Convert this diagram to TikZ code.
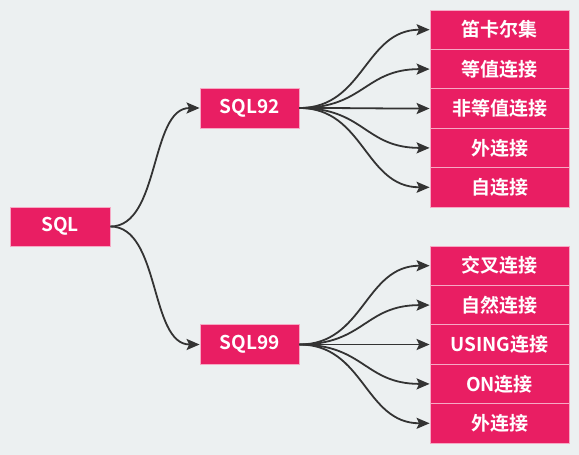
\documentclass[tikz,border=0pt]{standalone}
\usepackage{fontspec}
\setmainfont{Noto Sans CJK SC}[BoldFont={Noto Sans CJK SC Bold}]
\usetikzlibrary{arrows.meta}
\definecolor{bg}{HTML}{ECF0F1}
\definecolor{boxpink}{HTML}{E91E63}
\definecolor{boxline}{HTML}{F6A9C4}
\definecolor{lineclr}{HTML}{333333}
\tikzset{
  box/.style={rectangle, fill=boxpink, draw=boxline, line width=0.8pt, inner sep=0pt,
    text=white, font=\bfseries\fontsize{19}{21}\selectfont},
  rootbox/.style={box, minimum width=100pt, minimum height=39pt},
  midbox/.style={box, minimum width=99pt, minimum height=40pt},
  leafbox/.style={box, minimum width=139pt, minimum height=39.4pt},
  conn/.style={draw=lineclr, line width=1.8pt, -{Stealth[length=13pt,width=11pt,inset=2.5pt]}}
}
\begin{document}
\begin{tikzpicture}[x=1pt,y=-1pt]
\fill[bg] (0,0) rectangle (579,455);
\useasboundingbox (0,0) rectangle (579,455);
\node[rootbox] (sql) at (60,226.5) {SQL};
\node[midbox] (s92) at (249.5,108) {SQL92};
\node[midbox] (s99) at (249.5,344.5) {SQL99};
\node[leafbox] (a1) at (499.5,29.7) {笛卡尔集};
\node[leafbox] (a2) at (499.5,69.1) {等值连接};
\node[leafbox] (a3) at (499.5,108.5) {非等值连接};
\node[leafbox] (a4) at (499.5,147.9) {外连接};
\node[leafbox] (a5) at (499.5,187.3) {自连接};
\node[leafbox] (b1) at (499.5,265.7) {交叉连接};
\node[leafbox] (b2) at (499.5,305.1) {自然连接};
\node[leafbox] (b3) at (499.5,344.5) {USING连接};
\node[leafbox] (b4) at (499.5,383.9) {ON连接};
\node[leafbox] (b5) at (499.5,423.3) {外连接};
\path[conn] (sql.east) .. controls +(50,0) and +(-50,0) .. (s92.west);
\path[conn] (sql.east) .. controls +(50,0) and +(-50,0) .. (s99.west);
\foreach \t in {a1,a2,a3,a4,a5}{
  \path[conn] (s92.east) .. controls +(65,0) and +(-65,0) .. (\t.west);
}
\foreach \t in {b1,b2,b3,b4,b5}{
  \path[conn] (s99.east) .. controls +(65,0) and +(-65,0) .. (\t.west);
}
\end{tikzpicture}
\end{document}
